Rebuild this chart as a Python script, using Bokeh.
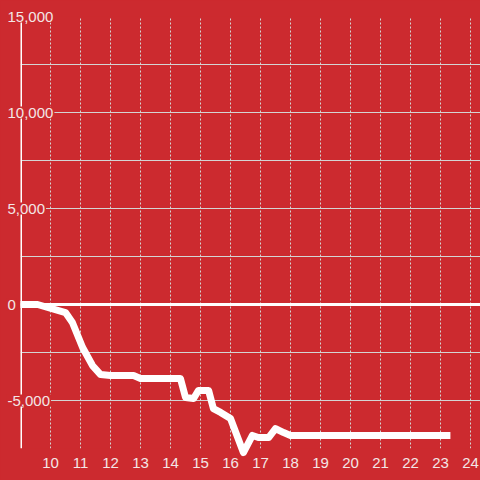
from bokeh.plotting import figure
from bokeh.models import FixedTicker, Span, Range1d
from bokeh.core.properties import value
from bokeh.embed import file_html
from bokeh.resources import INLINE

# data (hours of day, cumulative value)
hours = [9.0, 9.57, 10.5, 10.73, 11.07, 11.4, 11.67, 12.0, 12.77, 13.0, 14.33,
         14.5, 14.77, 14.93, 15.27, 15.43, 15.67, 16.0, 16.43, 16.73, 16.93,
         17.27, 17.5, 17.77, 18.0, 23.33]
values = [0, 0, -420, -940, -2240, -3180, -3650, -3700, -3700, -3850, -3850,
          -4840, -4900, -4480, -4480, -5420, -5620, -5940, -7710, -6820, -6930,
          -6930, -6460, -6670, -6820, -6820]

x_ticks = [10, 11, 12, 13, 14, 15, 16, 17, 18, 19, 20, 21, 22, 23, 24]
y_grid = [-7500, -5000, -2500, 0, 2500, 5000, 7500, 10000, 12500, 15000]
y_label_values = [-5000, 0, 5000, 10000, 15000]
y_labels = ["-5,000", "0", "5,000", "10,000", "15,000"]

BG = "#cc2a2f"
LBL = "#f3e6e6"
GRID = "#d4d4d4"
FONT = "Liberation Sans"

x_start = hours[0]

p = figure(width=480, height=480, output_backend="svg", toolbar_location=None,
           x_range=Range1d(x_start, 24.333), y_range=Range1d(-7500, 15000),
           y_axis_location=None,
           min_border_left=20, min_border_right=0, min_border_top=16, min_border_bottom=32,
           background_fill_color=BG, border_fill_color=BG, outline_line_color=None)

# x axis
p.xaxis.ticker = FixedTicker(ticks=x_ticks)
p.xaxis.axis_line_color = None
p.xaxis.major_tick_line_color = None
p.xaxis.minor_tick_line_color = None
p.xaxis.major_tick_out = 0
p.xaxis.major_tick_in = 0
p.xaxis.major_label_standoff = 9
p.xaxis.major_label_text_font = FONT
p.xaxis.major_label_text_font_size = "15px"
p.xaxis.major_label_text_color = LBL

# grids
p.xgrid.ticker = FixedTicker(ticks=x_ticks)
p.xgrid.grid_line_color = GRID
p.xgrid.grid_line_dash = "2 2"
p.xgrid.grid_line_width = 1
p.ygrid.ticker = FixedTicker(ticks=y_grid)
p.ygrid.grid_line_color = GRID
p.ygrid.grid_line_width = 1

# axis rule and zero line
p.add_layout(Span(location=x_start, dimension="height", line_color="white", line_width=3))
p.add_layout(Span(location=0, dimension="width", line_color="white", line_width=3))

# series
p.line(hours, values, line_width=7, line_color="white", line_join="round", level="overlay")

# y tick labels
p.text(x=[x_start] * len(y_label_values), y=y_label_values, text=y_labels,
       x_offset=-14, text_align="left", text_baseline="middle",
       text_font=value(FONT), text_font_size="15px", text_color=LBL,
       background_fill_color=BG, padding=1, level="overlay")

html = file_html(p, INLINE)
html = html.replace("</head>", "<style>body{background:%s;}</style></head>" % BG, 1)
open("out.html", "w").write(html)
